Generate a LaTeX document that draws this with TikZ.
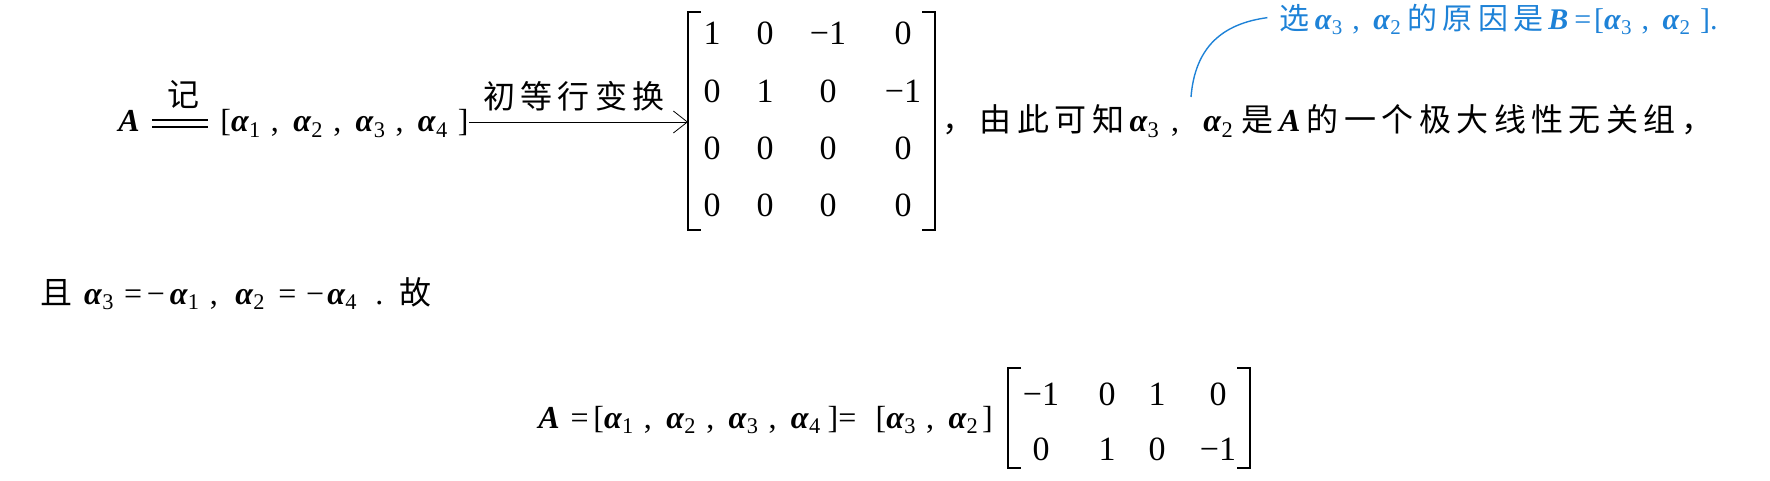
\documentclass[tikz,border=0pt]{standalone}
\usepackage{fontspec}
\setmainfont{Liberation Serif}
\newfontfamily\cjk[LetterSpace=17]{Noto Sans CJK SC}
\usetikzlibrary{arrows.meta,calc,positioning}
\definecolor{noteblue}{RGB}{30,130,215}

\newcommand\alv[1]{\textbf{\textit{α}}\textsubscript{#1}}
\newcommand\bA{\textbf{\textit{A}}}
\newcommand\csep{\hspace{0.3em},\hspace{0.45em}}

\tikzset{
  txt/.style={inner sep=0pt, anchor=base west, font=\fontsize{16}{19}\selectfont},
  ent/.style={inner sep=0pt, anchor=base, font=\fontsize{17}{20}\selectfont},
  cjktxt/.style={txt, font=\fontsize{16}{19}\selectfont\cjk},
  brk/.style={line width=1.2pt},
  lead/.style={noteblue, line width=0.7pt},
}

\begin{document}
\begin{tikzpicture}[x=0.5pt,y=-0.5pt]
\useasboundingbox (0,0) rectangle (1770,481);
% first line
\node[txt] (A1) at (118,132) {\bA};
\draw[line width=0.9pt] (152,120) -- (208,120) (152,127) -- (208,127);
\node[cjktxt, anchor=base] (ji) at (183,106) {记};
\node[txt] (vecs) at (220,132) {[\alv1\csep\alv2\csep\alv3\csep\alv4\hspace{0.3em}]};
\coordinate (m1L) at (688,12);
\coordinate (m1R) at (935,230);
\draw[-{Straight Barb[length=7pt,width=11pt]}] (vecs.east |- 0,122) -- (m1L |- 0,122);
\node[cjktxt, anchor=base] (rowop) at (574,109) {初等行变换};
% matrix 1
\draw[brk] ($(m1L)+(13,0)$) -- (m1L) -- (m1L |- m1R) -- ++(13,0);
\draw[brk] ($(m1R)+(-13,0)$) -- (m1R) -- (m1R |- m1L) -- ++(-13,0);
\foreach \row [count=\i] in {{1,0,−1,0},{0,1,0,−1},{0,0,0,0},{0,0,0,0}}
  \foreach \e [count=\j] in \row {
    \pgfmathsetmacro\cx{{712,765,828,903}[\j-1]}
    \node[ent] (m1-\i-\j) at (\cx,{45+57.3*(\i-1)}) {\e};
  }
\node[txt] (know) at (942,132) {{\cjk ，由此可知}\alv3\hspace{0.35em},};
\node[txt] (rest) at (1203,132) {\alv2\hspace{0.25em}{\cjk 是}\bA\hspace{0.2em}{\cjk 的一个极大线性无关组，}};
\coordinate (lead) at ($(rest.base west)+(-12,-35)$);
% blue note
\node[txt, text=noteblue, font=\fontsize{15}{18}\selectfont, anchor=base east] (note) at (1718,30)
  {{\cjk 选}\alv3\csep\alv2\hspace{0.2em}{\cjk 的原因是}\textbf{\textit{B}}\hspace{0.2em}=\hspace{0.1em}[\alv3\csep\alv2\hspace{0.3em}].};
\draw[lead] (lead) .. controls +(4,-50) and +(-45,6) .. ($(note.west)+(-12,-2)$);
% second line
\node[txt] (also) at (40,304) {{\cjk 且}\hspace{0.2em}\alv3\hspace{0.3em}=\hspace{0.15em}−\hspace{0.15em}\alv1\hspace{0.3em},\hspace{0.55em}\alv2\hspace{0.4em}=\hspace{0.3em}−\hspace{0.1em}\alv4\hspace{0.55em}.\hspace{0.5em}{\cjk 故}};
% third line
\node[txt] (A3) at (538,428) {\bA};
\node[txt, xshift=5pt] (expr) at (A3.base east)
  {=\hspace{0.15em}[\alv1\csep\alv2\csep\alv3\csep\alv4\hspace{0.2em}]=\hspace{0.6em}[\alv3\csep\alv2\hspace{0.1em}]};
\coordinate (m2L) at (1008,368);
\coordinate (m2R) at (1250,468);
\draw[brk] ($(m2L)+(13,0)$) -- (m2L) -- (m2L |- m2R) -- ++(13,0);
\draw[brk] ($(m2R)+(-13,0)$) -- (m2R) -- (m2R |- m2L) -- ++(-13,0);
\foreach \row [count=\i] in {{−1,0,1,0},{0,1,0,−1}}
  \foreach \e [count=\j] in \row {
    \pgfmathsetmacro\cx{{1041,1107,1157,1218}[\j-1]}
    \node[ent] (m2-\i-\j) at (\cx,{405+55*(\i-1)}) {\e};
  }
\end{tikzpicture}
\end{document}
